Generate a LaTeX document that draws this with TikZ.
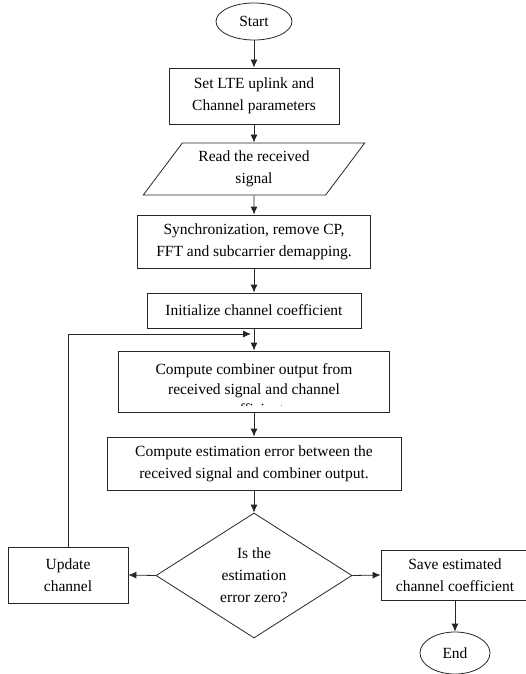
\documentclass[tikz,border=0pt]{standalone}
\usepackage{fontspec}
\setmainfont{Liberation Serif}
\usetikzlibrary{shapes.geometric,arrows.meta}

\begin{document}
\begin{tikzpicture}[x=1pt,y=-1pt,>={Latex[length=8pt,width=7pt]},
    font=\fontsize{15.5}{22}\selectfont,
    box/.style={draw=black!85,line width=0.8pt,rectangle,align=center,inner sep=0pt},
    term/.style={draw=black!85,line width=0.8pt,ellipse,inner sep=0pt},
    io/.style={draw=black!85,line width=0.8pt,trapezium,trapezium left angle=50,
      trapezium right angle=130,trapezium stretches=true,align=center,inner sep=0pt},
    test/.style={draw=black!85,line width=0.8pt,diamond,align=center,inner sep=0pt},
    flow/.style={->,draw=black!85,line width=0.8pt}]
    \useasboundingbox (0,0) rectangle (525,674);

    % main column
    \node[term,minimum width=76pt,minimum height=37pt] (start) at (254,21.5) {Start};
    \node[box,minimum width=170pt,minimum height=56pt] (setup) at (254,96)
      {Set LTE uplink and\\Channel parameters};
    \node[io,minimum width=222pt,minimum height=52pt] (read) at (254,169)
      {Read the received\\signal};
    \node[box,minimum width=233pt,minimum height=53pt] (sync) at (254,241.5)
      {Synchronization, remove CP,\\FFT and subcarrier demapping.};
    \node[box,minimum width=214pt,minimum height=35pt] (init) at (254,310.5)
      {Initialize channel coefficient};
    \node[box,minimum width=271pt,minimum height=61pt] (comb) at (254,381.5) {};
    \begin{scope}
      \clip ([yshift=7pt]comb.south west) rectangle (comb.north east);
      \node[font=\fontsize{15.5}{20}\selectfont,align=center] (combtext) at (254,389.5)
        {Compute combiner output from\\received signal and channel\\coefficients};
    \end{scope}
    \node[box,minimum width=294pt,minimum height=53pt] (err) at (254,463.5)
      {Compute estimation error between the\\received signal and combiner output.};
    \node[test,minimum width=196pt,minimum height=125pt] (check) at (254,575.5)
      {Is the\\estimation\\error zero?};

    % side branches
    \node[box,minimum width=120pt,minimum height=56pt] (update) at (68,575)
      {Update\\channel};
    \node[box,minimum width=148pt,minimum height=50pt] (save) at (455,575)
      {Save estimated\\channel coefficient};
    \node[term,minimum width=70pt,minimum height=42pt] (stop) at (455,653) {End};
    \coordinate (join) at (254,334);

    \draw[flow] (start) -- (setup);
    \draw[flow] (setup) -- (read);
    \draw[flow] (read) -- (sync);
    \draw[flow] (sync) -- (init);
    \draw[flow] (init) -- (comb);
    \draw[flow] (comb) -- (err);
    \draw[flow] (err) -- (check);
    \draw[flow] (check.west) -- (update.east);
    \draw[flow] (check.east) -- (save.west);
    \draw[flow] (save) -- (stop);
    \draw[flow,shorten >=3pt] (update.north) |- (join);
  \end{tikzpicture}
\end{document}
